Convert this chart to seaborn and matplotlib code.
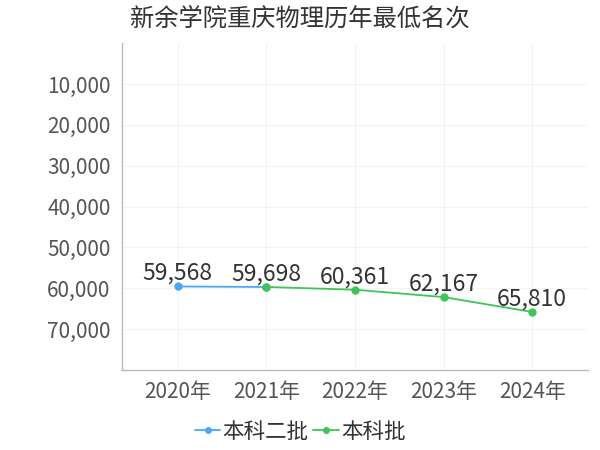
import matplotlib
matplotlib.use("Agg")
import matplotlib.pyplot as plt
import seaborn as sns
import pandas as pd

years = ["2020年", "2021年", "2022年", "2023年", "2024年"]
series_names = ["本科二批", "本科批"]
s1_years = ["2020年", "2021年"]
s1_vals = [59568, 59698]
s2_years = ["2021年", "2022年", "2023年", "2024年"]
s2_vals = [59698, 60361, 62167, 65810]
yticks = [10000, 20000, 30000, 40000, 50000, 60000, 70000]
colors = ["#4aa8f5", "#3fc35a"]

sns.set_theme(style="white")
plt.rcParams['font.family'] = ['Noto Sans CJK SC', 'DejaVu Sans']

rows = []
for y, v in zip(s1_years, s1_vals):
    rows.append({"x": years.index(y), "v": v, "s": series_names[0]})
for y, v in zip(s2_years, s2_vals):
    rows.append({"x": years.index(y), "v": v, "s": series_names[1]})
df = pd.DataFrame(rows)

fig = plt.figure(figsize=(6, 4.5), dpi=100)
ax = fig.add_axes([0.203, 0.178, 0.777, 0.726])
sns.lineplot(data=df, x="x", y="v", hue="s", palette=colors, marker="o",
             markersize=6, markeredgewidth=0, linewidth=1.3, ax=ax, legend=False)

labeled = {}
for y, v in zip(s1_years + s2_years, s1_vals + s2_vals):
    labeled[y] = v
for y, v in labeled.items():
    ax.annotate(f"{v:,}", (years.index(y), v), xytext=(0, 1), textcoords="offset points",
                ha="center", va="bottom", fontsize=16.5, color="#333333")

ax.set_ylim(80000, 0)
ax.set_xlim(-0.63, 4.63)
ax.set_yticks(yticks)
ax.set_yticklabels([f"{t:,}" for t in yticks])
ax.set_xticks(range(len(years)))
ax.set_xticklabels(years)
ax.tick_params(axis="both", labelsize=15, labelcolor="#555555", length=0, pad=8)
ax.set_xlabel("")
ax.set_ylabel("")
ax.grid(True, color="#f3f3f3", linewidth=0.8)
for side in ["top", "right"]:
    ax.spines[side].set_visible(False)
for side in ["left", "bottom"]:
    ax.spines[side].set_color("#bbbbbb")
    ax.spines[side].set_linewidth(1)

fig.text(0.5, 0.958, "新余学院重庆物理历年最低名次", ha="center", va="center",
         fontsize=17.5, color="#333333")

from matplotlib.lines import Line2D
handles = [Line2D([0], [0], color=c, marker="o", markersize=5, markeredgewidth=0, linewidth=1.3)
           for c in colors]
fig.legend(handles, series_names, loc="center", bbox_to_anchor=(0.5, 0.04), ncol=2,
           frameon=False, fontsize=15.5, handlelength=1.2, handletextpad=0.1, columnspacing=0.2,
           labelcolor="#333333")

fig.savefig("out.png", dpi=100)
